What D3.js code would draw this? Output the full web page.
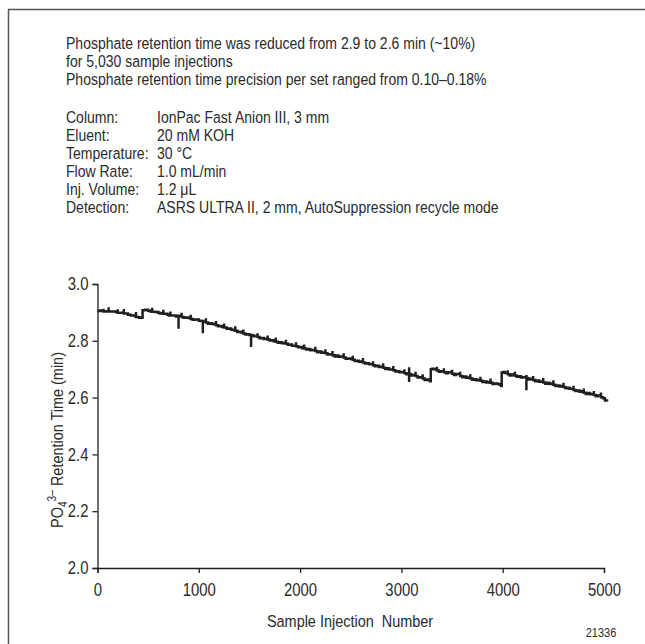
<!DOCTYPE html>
<html>
<head>
<meta charset="utf-8">
<script src="https://cdn.jsdelivr.net/npm/d3@7"></script>
<style>
  html, body { margin: 0; padding: 0; background: #fff; }
  svg text { font-family: "Liberation Sans", Arial, sans-serif; fill: #2b2b2b; }
</style>
</head>
<body>
<svg id="chart" width="645" height="644"></svg>
<script>
// ---- Text content ----
const headerLines = [
  "Phosphate retention time was reduced from 2.9 to 2.6 min (~10%)",
  "for 5,030 sample injections",
  "Phosphate retention time precision per set ranged from 0.10\u20130.18%"
];
const conditionLabels = ["Column:", "Eluent:", "Temperature:", "Flow Rate:", "Inj. Volume:", "Detection:"];
const conditionValues = ["IonPac Fast Anion III, 3 mm", "20 mM KOH", "30 \u00B0C", "1.0 mL/min", "1.2 \u03BCL", "ASRS ULTRA II, 2 mm, AutoSuppression recycle mode"];

// ---- Axis ticks ----
const xTicks = [0, 1000, 2000, 3000, 4000, 5000];
const yTicks = [2.0, 2.2, 2.4, 2.6, 2.8, 3.0];

// ---- Data: [injection number, PO4 retention time (min)] ----
const retentionTrace = [
  [0,2.905],[20,2.907],[40,2.905],[60,2.913],[60,2.903],[90,2.904],[110,2.906],[110,2.918],[110,2.903],[150,2.903],
  [180,2.901],[200,2.911],[200,2.899],[240,2.899],[260,2.898],[260,2.912],[260,2.896],[300,2.892],[330,2.889],[350,2.889],
  [370,2.887],[380,2.887],[380,2.901],[380,2.884],[410,2.881],[440,2.877],[440,2.882],[445,2.908],
  [470,2.909],[500,2.906],[520,2.903],[540,2.904],[540,2.916],[540,2.902],[570,2.901],[600,2.899],[615,2.896],[630,2.897],[650,2.897],
  [650,2.909],[650,2.895],[690,2.892],[705,2.889],[720,2.890],[720,2.903],[720,2.889],[760,2.889],[775,2.886],[790,2.888],[800,2.888],[800,2.842],
  [800,2.887],[830,2.886],[830,2.899],[830,2.884],[850,2.881],[870,2.882],[900,2.880],[920,2.880],[920,2.892],[920,2.877],[940,2.874],[960,2.875],
  [1000,2.871],[1020,2.870],[1040,2.869],[1040,2.827],[1040,2.868],[1070,2.866],[1070,2.879],[1070,2.864],[1090,2.860],[1110,2.862],[1130,2.859],[1150,2.858],
  [1170,2.858],[1170,2.870],[1170,2.855],[1190,2.851],[1210,2.852],[1230,2.849],[1250,2.848],[1250,2.861],[1250,2.847],[1275,2.842],[1300,2.843],[1320,2.839],[1340,2.838],[1360,2.838],
  [1360,2.851],[1360,2.835],[1380,2.831],[1400,2.832],[1420,2.829],[1440,2.828],[1440,2.840],[1440,2.826],[1460,2.822],[1480,2.823],[1500,2.820],[1516,2.820],[1516,2.778],[1516,2.820],
  [1535,2.816],[1550,2.817],[1580,2.815],[1580,2.827],[1580,2.813],[1600,2.809],[1620,2.810],[1640,2.806],[1660,2.807],[1680,2.807],[1680,2.819],[1680,2.805],[1700,2.801],[1720,2.802],
  [1740,2.798],[1760,2.799],[1760,2.812],[1760,2.797],[1780,2.793],[1800,2.795],[1820,2.791],[1840,2.792],[1860,2.792],[1860,2.804],[1860,2.790],[1880,2.786],[1900,2.787],[1920,2.783],[1940,2.783],
  [1960,2.783],[1960,2.795],[1960,2.781],[1980,2.777],[2000,2.778],[2020,2.774],[2040,2.775],[2040,2.787],[2040,2.773],[2060,2.769],[2080,2.771],[2100,2.767],[2120,2.768],[2150,2.766],
  [2150,2.779],[2150,2.764],[2170,2.760],[2190,2.762],[2210,2.758],[2230,2.759],[2250,2.758],[2250,2.770],[2250,2.756],[2270,2.752],[2290,2.753],[2320,2.751],[2320,2.764],
  [2320,2.749],[2340,2.745],[2360,2.748],[2380,2.744],[2400,2.745],[2430,2.743],[2430,2.756],[2430,2.741],[2450,2.737],[2470,2.738],[2500,2.736],[2520,2.735],[2520,2.747],
  [2520,2.733],[2540,2.729],[2560,2.730],[2580,2.726],[2600,2.727],[2620,2.726],[2620,2.739],[2620,2.724],[2640,2.720],[2660,2.721],[2680,2.717],[2700,2.717],[2720,2.717],[2720,2.728],
  [2720,2.714],[2740,2.710],[2760,2.712],[2780,2.708],[2800,2.709],[2820,2.708],[2820,2.721],[2820,2.705],[2840,2.701],[2860,2.703],[2880,2.699],[2900,2.699],[2920,2.698],[2920,2.711],
  [2920,2.696],[2940,2.692],[2960,2.693],[2980,2.689],[3000,2.690],[3030,2.688],[3030,2.700],[3030,2.686],[3050,2.682],[3076,2.683],[3076,2.707],[3076,2.655],[3076,2.683],
  [3095,2.678],[3110,2.680],[3140,2.678],[3140,2.691],[3140,2.676],[3160,2.671],[3180,2.672],[3210,2.669],[3210,2.682],[3210,2.667],[3230,2.662],[3250,2.664],[3270,2.661],
  [3285,2.658],[3290,2.700],[3305,2.702],[3320,2.700],[3350,2.697],[3350,2.709],[3350,2.695],[3370,2.691],[3390,2.693],[3420,2.691],[3420,2.703],[3420,2.689],
  [3440,2.686],[3460,2.689],[3500,2.686],[3500,2.698],[3500,2.684],[3520,2.680],[3540,2.683],[3580,2.679],[3580,2.691],[3580,2.676],[3600,2.672],[3620,2.674],[3640,2.670],[3660,2.671],
  [3680,2.670],[3680,2.682],[3680,2.667],[3700,2.663],[3720,2.665],[3740,2.661],[3760,2.662],[3780,2.661],[3780,2.673],[3780,2.659],[3800,2.655],[3820,2.657],[3840,2.653],[3860,2.655],
  [3880,2.655],[3880,2.667],[3880,2.652],[3900,2.648],[3920,2.650],[3950,2.648],[3970,2.645],[3985,2.641],[3990,2.688],[4005,2.690],[4020,2.687],[4050,2.684],
  [4050,2.696],[4050,2.682],[4070,2.678],[4090,2.681],[4120,2.679],[4120,2.691],[4120,2.677],[4140,2.673],[4160,2.675],[4180,2.671],[4200,2.672],[4234,2.669],[4234,2.680],
  [4234,2.626],[4234,2.669],[4250,2.664],[4270,2.666],[4300,2.664],[4300,2.676],[4300,2.662],[4320,2.658],[4340,2.660],[4360,2.656],[4380,2.657],[4400,2.656],[4400,2.669],
  [4400,2.653],[4420,2.649],[4440,2.652],[4460,2.648],[4480,2.650],[4500,2.648],[4500,2.661],[4500,2.645],[4520,2.641],[4540,2.643],[4560,2.639],[4580,2.641],[4600,2.639],[4600,2.652],
  [4600,2.637],[4620,2.633],[4640,2.635],[4660,2.631],[4680,2.631],[4700,2.629],[4700,2.642],[4700,2.627],[4720,2.623],[4740,2.625],[4760,2.621],[4780,2.622],[4800,2.620],[4800,2.632],
  [4800,2.617],[4820,2.613],[4840,2.616],[4860,2.612],[4880,2.613],[4900,2.611],[4900,2.623],[4900,2.609],[4920,2.605],[4940,2.607],[4970,2.604],[4970,2.618],[4970,2.601],
  [4990,2.598],[5010,2.590],[5030,2.586]
];

const SX = 0.85; // horizontal condensing of the Helvetica-like face
const svg = d3.select("#chart");

function ctext(parent, x, y, size, str, anchor) {
  return parent.append("text")
    .attr("transform", `translate(${x},${y}) scale(${SX},1)`)
    .attr("font-size", size)
    .attr("text-anchor", anchor || "start")
    .text(str);
}

// Frame (top and left rules)
svg.append("line").attr("x1", 8).attr("y1", 9.5).attr("x2", 645).attr("y2", 9.5)
  .attr("stroke", "#555").attr("stroke-width", 1.5);
svg.append("line").attr("x1", 8.5).attr("y1", 9).attr("x2", 8.5).attr("y2", 644)
  .attr("stroke", "#555").attr("stroke-width", 1.5);

// Header text
const hdr = svg.append("g");
headerLines.forEach((s, i) => ctext(hdr, 66, 49 + i * 18, 16.5, s));

// Conditions
const cond = svg.append("g");
conditionLabels.forEach((s, i) => ctext(cond, 66, 123 + i * 18, 16.5, s));
conditionValues.forEach((s, i) => ctext(cond, 157, 123 + i * 18, 16.5, s));

// Scales
const x = d3.scaleLinear().domain([0, 5000]).range([97.5, 604]);
const y = d3.scaleLinear().domain([2.0, 3.0]).range([568, 284]);

const xAxis = svg.append("g").attr("transform", `translate(0,${y(2.0)})`)
  .call(d3.axisBottom(x).tickValues(xTicks).tickSize(5).tickSizeOuter(5).tickPadding(11).tickFormat(d3.format("d")));
const yAxis = svg.append("g").attr("transform", `translate(${x(0)},0)`)
  .call(d3.axisLeft(y).tickValues(yTicks).tickSize(5).tickSizeOuter(5).tickPadding(4).tickFormat(d3.format(".1f")));

[xAxis, yAxis].forEach(g => {
  g.selectAll("path, line").attr("stroke", "#231f20").attr("stroke-width", 1.3);
  g.attr("font-family", null).attr("font-size", null);
  g.selectAll("text").attr("font-size", 17.5).attr("fill", "#2b2b2b");
});
// condense tick labels
xAxis.selectAll(".tick text").each(function () {
  const t = d3.select(this);
  const dy = +t.attr("y");
  t.attr("y", null).attr("dy", "0.71em").attr("transform", `translate(0,${dy}) scale(${SX},1)`);
});
yAxis.selectAll(".tick text").each(function () {
  const t = d3.select(this);
  const dx = +t.attr("x");
  t.attr("x", null).attr("transform", `translate(${dx},0) scale(${SX},1)`);
});

// Trace
svg.append("path").datum(retentionTrace)
  .attr("fill", "none").attr("stroke", "#231f20").attr("stroke-width", 2.5)
  .attr("stroke-linejoin", "miter").attr("stroke-miterlimit", 2)
  .attr("d", d3.line().curve(d3.curveStepAfter).x(d => x(d[0])).y(d => y(d[1])));

// Axis titles
const yt = svg.append("text")
  .attr("transform", `translate(63,${(y(2.0) + y(3.0)) / 2 + 14}) rotate(-90) scale(${SX},1)`)
  .attr("text-anchor", "middle").attr("font-size", 17);
yt.append("tspan").text("PO");
yt.append("tspan").attr("font-size", 12).attr("dy", 4).text("4");
yt.append("tspan").attr("font-size", 12).attr("dy", -11).text("3\u2013");
yt.append("tspan").attr("dy", 7).text(" Retention Time (min)");

ctext(svg, 350, 627, 17, "Sample Injection\u00A0\u00A0Number", "middle");
ctext(svg, 601, 637, 13, "21336", "middle");
</script>
</body>
</html>
